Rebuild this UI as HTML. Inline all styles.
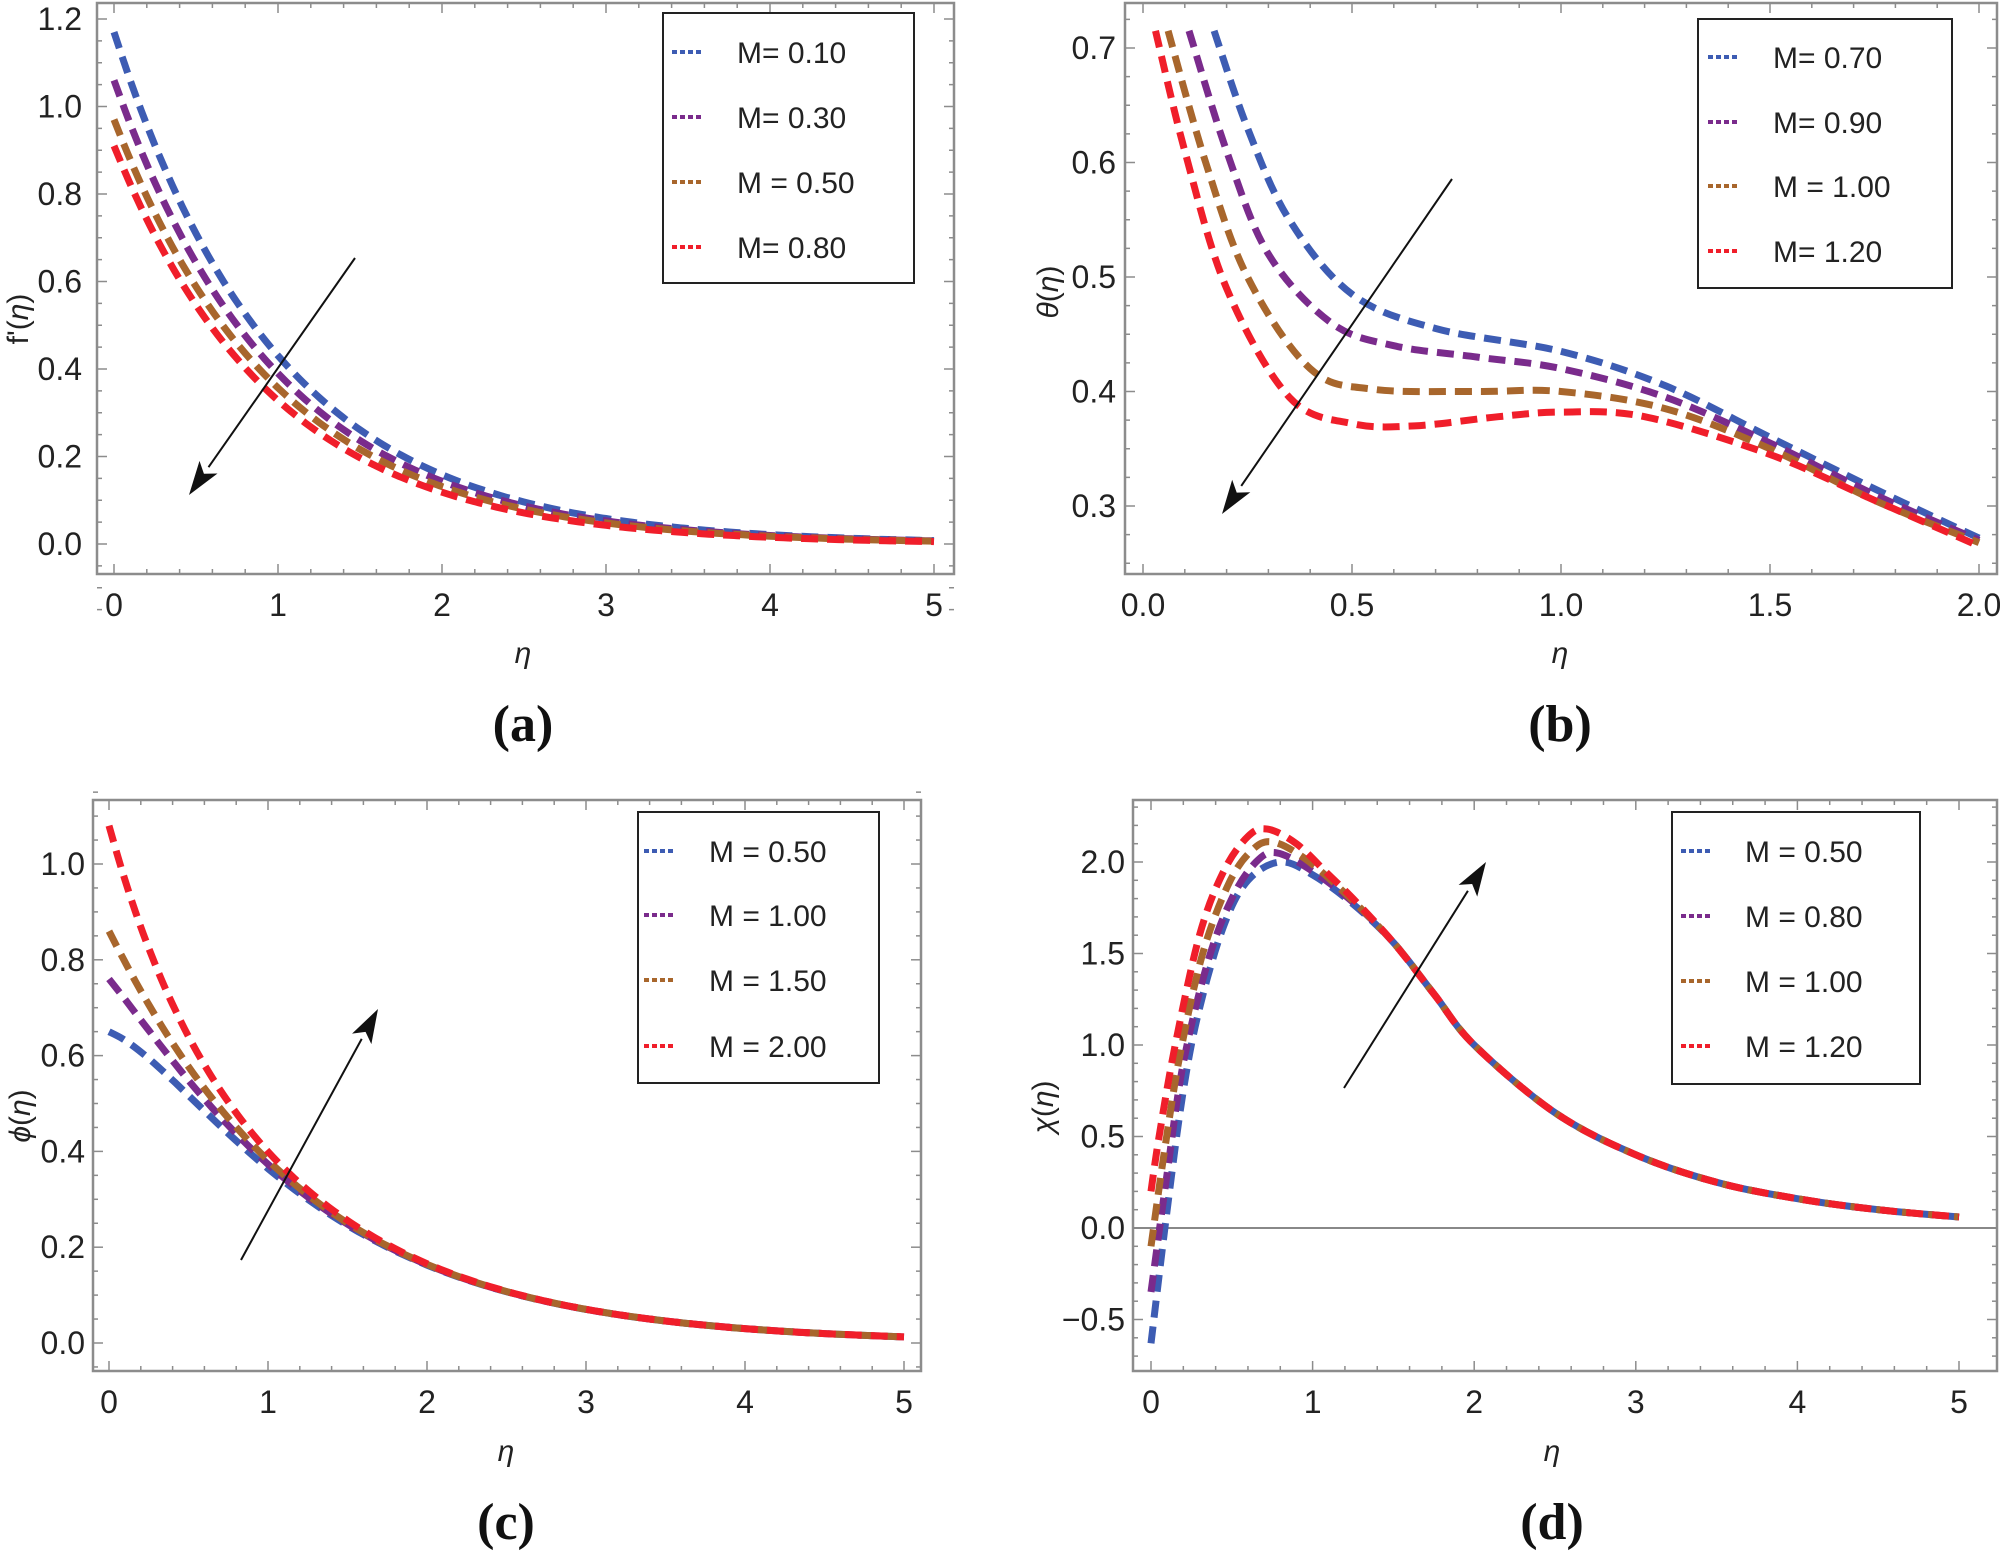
<!DOCTYPE html>
<html><head><meta charset="utf-8"><style>
html,body{margin:0;padding:0;background:#fff;}
svg{display:block;}
</style></head><body>
<svg id="s" width="2000" height="1558" xmlns="http://www.w3.org/2000/svg" font-family="Liberation Sans, sans-serif"></svg>
<script>
const S=document.getElementById('s');let out='';
const C=['#3d5cb3','#7a2b8c','#a8662c','#f01e2a'];
function L(a,b,v0,v1){return v=>a+(v-v0)*(b-a)/(v1-v0);}
function cr(pts){let d='M'+pts[0][0].toFixed(1)+','+pts[0][1].toFixed(1);
for(let i=0;i<pts.length-1;i++){const p0=pts[Math.max(0,i-1)],p1=pts[i],p2=pts[i+1],p3=pts[Math.min(pts.length-1,i+2)];
const c1=[p1[0]+(p2[0]-p0[0])/6,p1[1]+(p2[1]-p0[1])/6],c2=[p2[0]-(p3[0]-p1[0])/6,p2[1]-(p3[1]-p1[1])/6];
d+=' C'+c1[0].toFixed(1)+','+c1[1].toFixed(1)+' '+c2[0].toFixed(1)+','+c2[1].toFixed(1)+' '+p2[0].toFixed(1)+','+p2[1].toFixed(1);}return d;}
function curve(P,pts,col){const pp=pts.map(p=>[P.X(p[0]),P.Y(p[1])]);out+=`<path d="${cr(pp)}" fill="none" stroke="${col}" stroke-width="7" stroke-dasharray="17,9"/>`;}
function fcurve(P,f,a,b,col){const pts=[];for(let i=0;i<=60;i++){const x=a+(b-a)*i/60;pts.push([x,f(x)]);}curve(P,pts,col);}
function panel(P){
 const {fx0,fx1,fy0,fy1}=P;const gap=P.gap||10;
 out+=`<rect x="${fx0}" y="${fy0}" width="${fx1-fx0}" height="${fy1-fy0}" fill="none" stroke="#8c8c8c" stroke-width="2.5"/>`;
 const nx=Math.round(P.xmaj/P.xmin);
 for(let k=Math.ceil(P.xa/P.xmin-1e-6);k*P.xmin<=P.xb+1e-9;k++){const v=k*P.xmin;const x=P.X(v);const maj=(((k%nx)+nx)%nx)===0;const l=maj?10:5;
  out+=`<line x1="${x}" y1="${fy1}" x2="${x}" y2="${fy1-l}" stroke="#8c8c8c" stroke-width="1.5"/><line x1="${x}" y1="${fy0}" x2="${x}" y2="${fy0+l}" stroke="#8c8c8c" stroke-width="1.5"/>`;
  if(maj)out+=`<text x="${x}" y="${fy1+42}" font-size="32" text-anchor="middle" fill="#222">${v.toFixed(P.xd)}</text>`;}
 const ny=Math.round(P.ymaj/P.ymin);
 for(let k=Math.ceil(P.ya/P.ymin-1e-6);k*P.ymin<=P.yb+1e-9;k++){const v=k*P.ymin;const y=P.Y(v);const maj=(((k%ny)+ny)%ny)===0;const l=maj?10:5;
  out+=`<line x1="${fx0}" y1="${y}" x2="${fx0+l}" y2="${y}" stroke="#8c8c8c" stroke-width="1.5"/><line x1="${fx1}" y1="${y}" x2="${fx1-l}" y2="${y}" stroke="#8c8c8c" stroke-width="1.5"/>`;
  if(maj)out+=`<text x="${fx0-gap}" y="${y+11}" font-size="32" text-anchor="end" fill="#222">${(Math.abs(v)<1e-9?0:v).toFixed(1).replace('-','\u2212')}</text>`;}
}
function legend(b,ys,lx,tx,labels){out+=`<rect x="${b[0]}" y="${b[1]}" width="${b[2]-b[0]}" height="${b[3]-b[1]}" fill="#fff" stroke="#222" stroke-width="2"/>`;
 ys.forEach((y,i)=>{out+=`<line x1="${lx[0]}" y1="${y}" x2="${lx[1]}" y2="${y}" stroke="${C[i]}" stroke-width="4" stroke-dasharray="5,3"/><text x="${tx}" y="${y+11}" font-size="30" fill="#222">${labels[i]}</text>`;});}
function arrow(x1,y1,x2,y2){const a=Math.atan2(y2-y1,x2-x1),L1=34,w=11;const bx=x2-L1*Math.cos(a),by=y2-L1*Math.sin(a);
 out+=`<line x1="${x1}" y1="${y1}" x2="${bx}" y2="${by}" stroke="#111" stroke-width="2"/><polygon points="${x2},${y2} ${bx+w*Math.sin(a)},${by-w*Math.cos(a)} ${x2-26*Math.cos(a)},${y2-26*Math.sin(a)} ${bx-w*Math.sin(a)},${by+w*Math.cos(a)}" fill="#111"/>`;}
function labels(cx,ey,lab,yx,yy,ylab){out+=`<text x="${cx}" y="${ey+10}" font-size="30" font-style="italic" text-anchor="middle" fill="#222">η</text>`;
 out+=`<text x="${cx}" y="${ey+88}" font-size="52" font-weight="bold" font-family="Liberation Serif, serif" text-anchor="middle" fill="#111">${lab}</text>`;
 out+=`<text transform="translate(${yx},${yy}) rotate(-90)" font-size="30" text-anchor="middle" fill="#222">${ylab}</text>`;}
// (a)
const A={gap:15,fx0:97,fx1:954,fy0:3,fy1:574,X:L(114,934,0,5),Y:L(544,19,0,1.2),xa:-0.1,xb:5.1,xmin:0.2,xmaj:1,xd:0,ya:-0.15,yb:1.25,ymin:0.05,ymaj:0.2};
panel(A);
[[1.17,1.0],[1.06,1.0],[0.97,1.0],[0.91,1.02]].forEach((p,i)=>fcurve(A,x=>p[0]*Math.exp(-p[1]*x),0,5,C[i]));
legend([663,13,914,283],[52,117,182,247],[672,702],737,['M= 0.10','M= 0.30','M = 0.50','M= 0.80']);
arrow(355,258,189,495);labels(523,653,'(a)',28,319,"f'(<tspan font-style='italic'>η</tspan>)");
// (b)
const B={gap:9,fx0:1125,fx1:1997,fy0:3,fy1:574,X:L(1143,1979,0,2),Y:L(506,48,0.3,0.7),xa:-0.04,xb:2.04,xmin:0.1,xmaj:0.5,xd:1,ya:0.25,yb:0.75,ymin:0.025,ymaj:0.1};
panel(B);
const bp=[
[[0.17,0.715],[0.25,0.63],[0.35,0.55],[0.5,0.485],[0.7,0.455],[1.0,0.435],[1.25,0.405],[1.5,0.36],[1.75,0.315],[2.0,0.272]],
[[0.11,0.715],[0.2,0.61],[0.3,0.52],[0.45,0.46],[0.6,0.44],[0.8,0.43],[1.0,0.42],[1.25,0.395],[1.5,0.355],[1.75,0.31],[2.0,0.27]],
[[0.06,0.715],[0.15,0.6],[0.25,0.5],[0.4,0.42],[0.55,0.402],[0.8,0.4],[1.0,0.4],[1.25,0.385],[1.5,0.35],[1.75,0.305],[2.0,0.268]],
[[0.03,0.715],[0.1,0.61],[0.2,0.49],[0.35,0.395],[0.5,0.372],[0.65,0.37],[0.85,0.378],[1.0,0.382],[1.2,0.378],[1.5,0.345],[1.75,0.305],[2.0,0.265]]];
bp.forEach((p,i)=>curve(B,p,C[i]));
legend([1698,19,1952,288],[57,122,186,251],[1708,1740],1773,['M= 0.70','M= 0.90','M = 1.00','M= 1.20']);
arrow(1452,179,1222,514);labels(1560,653,'(b)',1058,292,"<tspan font-style='italic'>θ</tspan>(<tspan font-style='italic'>η</tspan>)");
// (c)
const Cc={gap:8,fx0:93,fx1:921,fy0:800,fy1:1371,X:L(109,904,0,5),Y:L(1343,864,0,1),xa:-0.1,xb:5.1,xmin:0.2,xmaj:1,xd:0,ya:-0.05,yb:1.15,ymin:0.05,ymaj:0.2};
panel(Cc);
[0.65,0.76,0.86,1.08].forEach((a,i)=>fcurve(Cc,x=>0.9*Math.exp(-0.85*x)+(a-0.9)*Math.exp(-2.5*x),0,5,C[i]));
legend([638,812,879,1083],[851,915,980,1046],[644,673],709,['M = 0.50','M = 1.00','M = 1.50','M = 2.00']);
arrow(241,1260,378,1009);labels(506,1451,'(c)',30,1116,"<tspan font-style='italic'>ϕ</tspan>(<tspan font-style='italic'>η</tspan>)");
// (d)
const D={gap:8,fx0:1133,fx1:1997,fy0:800,fy1:1371,X:L(1151,1959,0,5),Y:L(1228,862,0,2),xa:-0.1,xb:5.1,xmin:0.2,xmaj:1,xd:0,ya:-0.75,yb:2.3,ymin:0.1,ymaj:0.5};
panel(D);
out+=`<line x1="1133" y1="1228" x2="1997" y2="1228" stroke="#888" stroke-width="2"/>`;
const tail=[[1.5,1.56],[1.75,1.28],[2,1.0],[2.5,0.63],[3,0.4],[3.5,0.25],[4,0.16],[4.5,0.1],[5,0.06]];
const dp=[
[[0,-0.63],[0.1,0.1],[0.2,0.75],[0.3,1.2],[0.45,1.65],[0.6,1.9],[0.8,2.0],[1.0,1.93],[1.25,1.77]],
[[0,-0.35],[0.1,0.3],[0.2,0.9],[0.35,1.45],[0.5,1.8],[0.65,2.0],[0.78,2.05],[1.0,1.95],[1.25,1.78]],
[[0,-0.1],[0.08,0.4],[0.18,0.95],[0.32,1.5],[0.48,1.88],[0.62,2.06],[0.75,2.11],[0.95,2.02],[1.2,1.83]],
[[0,0.2],[0.05,0.5],[0.15,1.0],[0.3,1.6],[0.45,1.95],[0.6,2.14],[0.72,2.18],[0.9,2.1],[1.1,1.93],[1.25,1.8]]];
dp.forEach((p,i)=>curve(D,p.concat(tail),C[i]));
legend([1672,812,1920,1084],[851,916,981,1046],[1681,1713],1745,['M = 0.50','M = 0.80','M = 1.00','M = 1.20']);
arrow(1344,1088,1486,862);labels(1552,1451,'(d)',1053,1107,"<tspan font-style='italic'>χ</tspan>(<tspan font-style='italic'>η</tspan>)");
S.innerHTML=out;
</script>
</body></html>
